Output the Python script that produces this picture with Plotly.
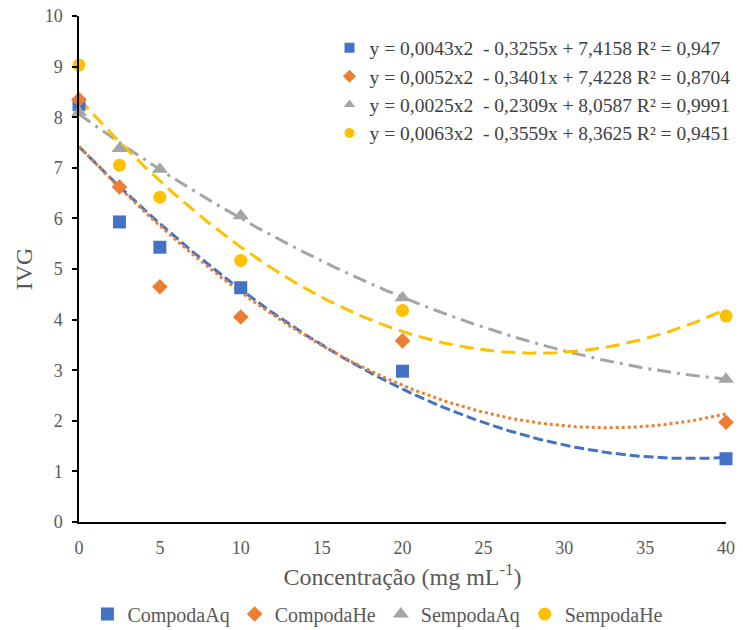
import numpy as np
import plotly.graph_objects as go

# ---- data ----
conc = [0, 2.5, 5, 10, 20, 40]
series_names = ["CompodaAq", "CompodaHe", "SempodaAq", "SempodaHe"]
compoda_aq = [8.25, 5.93, 5.43, 4.63, 2.98, 1.25]
compoda_he = [8.35, 6.62, 4.65, 4.05, 3.58, 1.97]
sempoda_aq = [8.10, 7.38, 6.97, 6.05, 4.43, 2.82]
sempoda_he = [9.03, 7.05, 6.42, 5.17, 4.18, 4.07]

# trendline coefficients (a x^2 + b x + c) and R^2 as displayed
coef_a = [0.0043, 0.0052, 0.0025, 0.0063]
coef_b = [-0.3255, -0.3401, -0.2309, -0.3559]
coef_c = [7.4158, 7.4228, 8.0587, 8.3625]
r2 = ["0,947", "0,8704", "0,9991", "0,9451"]

x_ticks = [0, 5, 10, 15, 20, 25, 30, 35, 40]
y_ticks = list(range(0, 11))

# ---- styles ----
colors = ["#4472C4", "#ED7D31", "#A5A5A5", "#FFC000"]
symbols = ["square", "diamond", "triangle-up", "circle"]
msizes = [13, 12, 14, 13]
dashes = ["10px,4px", "3px,3px", "14px,6px,3px,6px", "14px,7px"]
FONT = "Liberation Serif"

values = [compoda_aq, compoda_he, sempoda_aq, sempoda_he]

fig = go.Figure()

xs = np.linspace(0, 40, 241)
for i in range(4):
    ys = coef_a[i] * xs ** 2 + coef_b[i] * xs + coef_c[i]
    fig.add_trace(go.Scatter(
        x=xs, y=ys, mode="lines",
        line=dict(color=colors[i], width=3, dash=dashes[i]),
        showlegend=False, hoverinfo="skip"))

for i in range(4):
    fig.add_trace(go.Scatter(
        x=conc, y=values[i], mode="markers", name=series_names[i],
        marker=dict(symbol=symbols[i], color=colors[i], size=msizes[i]),
        cliponaxis=False, legend="legend"))


def fmt(v):
    return f"{abs(v):.4f}".replace(".", ",")


for i in range(4):
    eq = (f"y = {fmt(coef_a[i])}x2  - {fmt(coef_b[i])}x + {fmt(coef_c[i])} "
          f"R² = {r2[i]}")
    fig.add_trace(go.Scatter(
        x=[None], y=[None], mode="markers", name=eq,
        marker=dict(symbol=symbols[i], color=colors[i], size=10),
        legend="legend2", legendgroup=f"g{i}"))

fig.update_layout(
    width=743, height=630,
    margin=dict(l=79, r=17, t=16, b=108, autoexpand=False),
    paper_bgcolor="white", plot_bgcolor="white",
    font=dict(family=FONT, color="#595959", size=18),
    xaxis=dict(range=[0, 40], tickvals=x_ticks, showgrid=False, zeroline=False,
               showline=True, linecolor="black", linewidth=1.5, ticks="",
               automargin=False, ticklabeloverflow="allow",
               tickfont=dict(family=FONT, size=18, color="#595959"),
               ticklabelstandoff=9,
               title=dict(text="Concentração (mg mL<sup>-1</sup>)",
                          font=dict(family=FONT, size=24, color="#595959"),
                          standoff=11)),
    yaxis=dict(range=[0, 10], tickvals=y_ticks, showgrid=False, zeroline=False,
               showline=True, linecolor="black", linewidth=1.5,
               automargin=False, ticklabeloverflow="allow",
               ticks="outside", ticklen=5, tickcolor="black", tickwidth=1.5,
               tickfont=dict(family=FONT, size=18, color="#595959"),
               ticklabelstandoff=6,
               title=dict(text="IVG",
                          font=dict(family=FONT, size=24, color="#595959"),
                          standoff=5)),
    legend=dict(orientation="h", x=0.462, xanchor="center",
                yref="container", y=0.0254, yanchor="middle",
                font=dict(family=FONT, size=20, color="#595959"),
                itemwidth=30, bgcolor="rgba(0,0,0,0)"),
    legend2=dict(orientation="v", x=1.0147, xanchor="right", y=0.975,
                 yanchor="top", font=dict(family=FONT, size=19.5, color="#404040"),
                 itemwidth=30, tracegroupgap=0, bgcolor="rgba(0,0,0,0)"),
)

# remove the default 8px page margin so the figure fills the window exactly
fig.write_html("out.html",
               config={"displayModeBar": False},
               post_script="document.body.style.margin='0';"
                           "document.body.style.overflow='hidden';")
